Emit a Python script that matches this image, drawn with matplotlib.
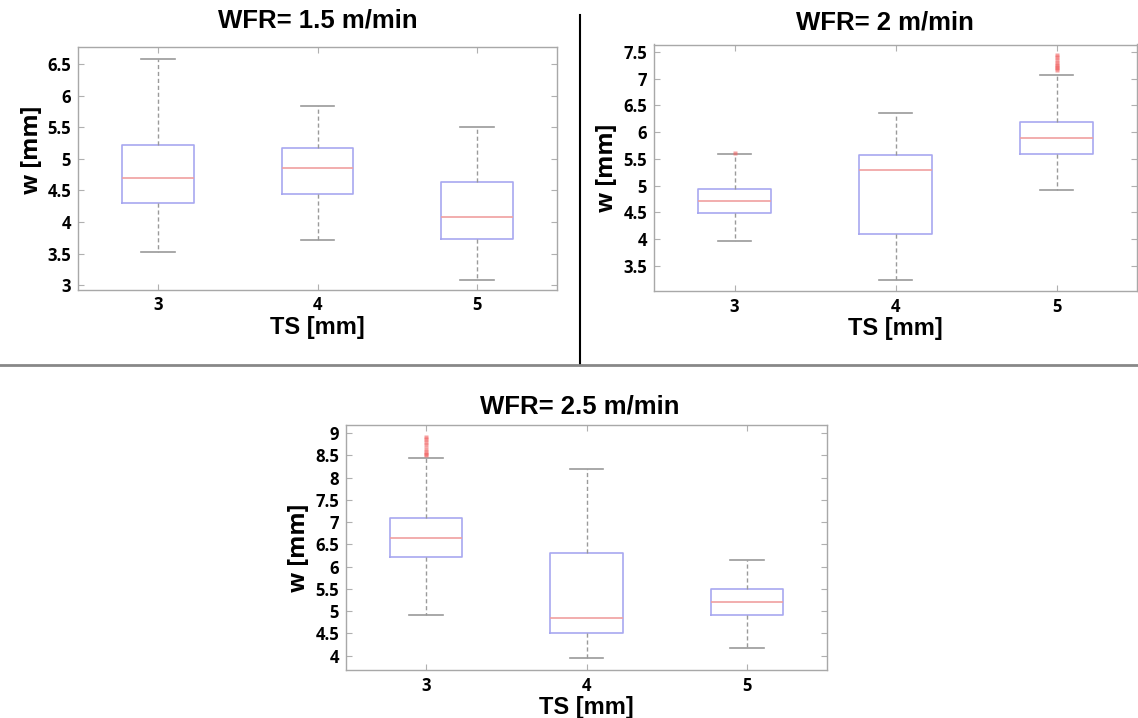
import matplotlib.pyplot as plt
from matplotlib.lines import Line2D

# spacing of torch (TS) and box statistics, one list per WFR
ts = [3, 4, 5]

# WFR = 1.5 m/min
med_15 = [4.69, 4.86, 4.08]
q1_15 = [4.30, 4.45, 3.73]
q3_15 = [5.22, 5.17, 4.63]
lo_15 = [3.52, 3.71, 3.08]
hi_15 = [6.58, 5.84, 5.50]
out_15 = [[], [], []]

# WFR = 2 m/min
med_2 = [4.72, 5.29, 5.90]
q1_2 = [4.48, 4.09, 5.59]
q3_2 = [4.93, 5.57, 6.19]
lo_2 = [3.97, 3.24, 4.91]
hi_2 = [5.60, 6.36, 7.07]
out_2 = [[5.62], [], [7.44, 7.40, 7.35, 7.29, 7.25, 7.22, 7.20, 7.17]]

# WFR = 2.5 m/min
med_25 = [6.65, 4.84, 5.21]
q1_25 = [6.21, 4.50, 4.91]
q3_25 = [7.10, 6.31, 5.50]
lo_25 = [4.92, 3.94, 4.17]
hi_25 = [8.44, 8.19, 6.15]
out_25 = [[8.92, 8.86, 8.79, 8.72, 8.64, 8.57, 8.53, 8.50], [], []]

titles = ["WFR= 1.5 m/min", "WFR= 2 m/min", "WFR= 2.5 m/min"]

tick_font = dict(family="Open Sans", weight="bold", size=12)


def box_stats(med, q1, q3, lo, hi, out):
    stats = []
    for i in range(len(ts)):
        stats.append(dict(med=med[i], q1=q1[i], q3=q3[i],
                          whislo=lo[i], whishi=hi[i], fliers=out[i]))
    return stats


def draw_panel(ax, stats, ylim, yticks):
    ax.bxp(stats, positions=ts, widths=0.45, capwidths=0.21,
           boxprops=dict(color="#a8a8f0", lw=1.2),
           medianprops=dict(color="#f0a0a0", lw=1.2),
           whiskerprops=dict(color="#9a9a9a", lw=1, ls=(0, (3, 2))),
           capprops=dict(color="#9a9a9a", lw=1.2),
           flierprops=dict(marker="s", markerfacecolor="#f06060",
                           markeredgecolor="none", markersize=3, alpha=0.6))
    ax.set_xlim(2.5, 5.5)
    ax.set_ylim(*ylim)
    ax.set_xticks(ts)
    ax.set_xticklabels([str(t) for t in ts], fontdict=tick_font)
    ax.set_yticks(yticks)
    ax.set_yticklabels(["%g" % v for v in yticks], fontdict=tick_font)
    ax.tick_params(direction="in", length=4, color="#b0b0b0", width=0.8,
                   top=True, right=True, pad=5)
    for s in ax.spines.values():
        s.set_color("#a8a8a8")
        s.set_linewidth(1)
    ax.set_xlabel("TS [mm]", fontsize=17, fontweight="bold",
                  family="Liberation Sans", labelpad=1)
    ax.set_ylabel("w [mm]", fontsize=17, fontweight="bold",
                  family="Open Sans", labelpad=3)


fig = plt.figure(figsize=(11.38, 7.18), dpi=100)
W, H = 1138, 718


def add_axes(left, top, right, bottom):
    return fig.add_axes([left / W, 1 - bottom / H, (right - left) / W, (bottom - top) / H])


ax1 = add_axes(78, 46.5, 557, 289.5)
ax2 = add_axes(654, 44.5, 1137, 291)
ax3 = add_axes(346, 425, 827, 670)

draw_panel(ax1, box_stats(med_15, q1_15, q3_15, lo_15, hi_15, out_15),
           (2.93, 6.78), [3, 3.5, 4, 4.5, 5, 5.5, 6, 6.5])
draw_panel(ax2, box_stats(med_2, q1_2, q3_2, lo_2, hi_2, out_2),
           (3.03, 7.64), [3.5, 4, 4.5, 5, 5.5, 6, 6.5, 7, 7.5])
draw_panel(ax3, box_stats(med_25, q1_25, q3_25, lo_25, hi_25, out_25),
           (3.68, 9.18), [4, 4.5, 5, 5.5, 6, 6.5, 7, 7.5, 8, 8.5, 9])

# the left label of the first panel sits higher than the axes centre
fig.text(32 / W, 1 - 150 / H, "w [mm]", rotation=90, ha="center", va="center",
         fontsize=17, fontweight="bold", family="Open Sans")
ax1.set_ylabel("")

fig.text(318 / W, 1 - 21 / H, titles[0], ha="center", va="center",
         fontsize=18.5, fontweight="bold", family="Liberation Sans")
fig.text(885 / W, 1 - 23 / H, titles[1], ha="center", va="center",
         fontsize=18.5, fontweight="bold", family="Liberation Sans")
fig.text(580 / W, 1 - 406 / H, titles[2], ha="center", va="center",
         fontsize=18.5, fontweight="bold", family="Liberation Sans")

# separators between the panels
fig.add_artist(Line2D([580 / W, 580 / W], [1 - 15 / H, 1 - 365 / H],
                      color="black", lw=1.5))
fig.add_artist(Line2D([0, 1], [1 - 365 / H, 1 - 365 / H],
                      color="#888888", lw=2))

fig.savefig("out.png", dpi=100)
